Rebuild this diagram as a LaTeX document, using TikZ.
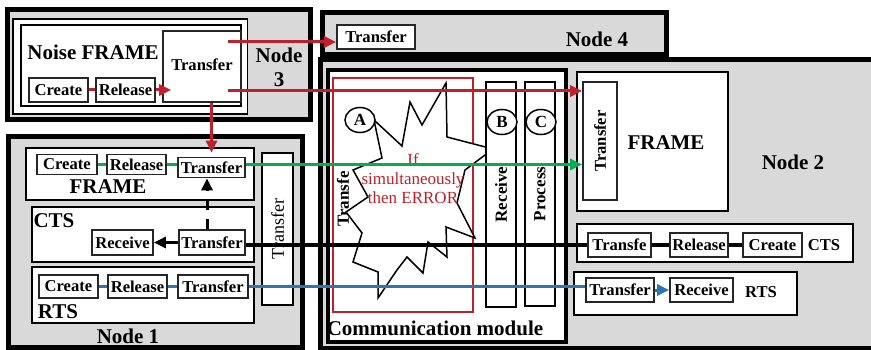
\documentclass[tikz,border=0pt]{standalone}
\usepackage{fontspec}
\setmainfont{Liberation Serif}
\usetikzlibrary{arrows.meta,shapes.geometric}

\definecolor{nodegray}{RGB}{217,217,217}
\definecolor{errred}{RGB}{192,32,44}
\definecolor{framegreen}{RGB}{0,176,80}
\definecolor{rtsblue}{RGB}{46,117,182}

\tikzset{
  nodearea/.style={draw, line width=5pt, fill=nodegray, inner sep=0pt},
  framebox/.style={draw, line width=1.5pt, fill=white, inner sep=0pt},
  task/.style={draw=black!85, line width=1.8pt, fill=white, inner sep=0pt, minimum height=24pt,
    font=\bfseries\fontsize{16.6}{16.6}\selectfont},
  bar/.style={draw, line width=1.8pt, fill=white, inner sep=0pt},
  bigtext/.style={inner sep=0pt, font=\bfseries\fontsize{21}{24}\selectfont},
  smalltext/.style={inner sep=0pt, font=\bfseries\fontsize{16.6}{18}\selectfont},
  mark17/.style={draw, ellipse, line width=1.5pt, fill=white, inner sep=0pt,
    minimum width=30pt, minimum height=25pt, font=\bfseries\fontsize{17}{17}\selectfont},
  flow/.style={line width=3pt},
  arrowtip/.style={-{Triangle[length=12pt,width=11pt]}},
}

\begin{document}
\begin{tikzpicture}[x=1pt,y=-1pt]
  \useasboundingbox (0,0) rectangle (871,350);

  % Node 3
  \node[nodearea, minimum width=302.5pt, minimum height=110pt] (node3) at (158.75,65) {};
  \node[framebox, minimum width=234.5pt, minimum height=95pt] (noiseouter) at (130.25,66.5) {};
  \node[framebox, minimum width=220pt, minimum height=81pt] (noiseinner) at (131,65.5) {};
  \node[task, minimum width=78pt, minimum height=71pt] (nTransfer) at (202,66.5) {\raisebox{3pt}{Transfer}};
  \node[task, minimum width=59pt] (nCreate) at (58.5,90) {Create};
  \node[task, minimum width=59pt] (nRelease) at (125.5,90) {Release};
  \node[bigtext] (noiselbl) at (93,52) {Noise FRAME};
  \node[bigtext, align=center] (node3lbl) at (279,67) {Node\\3};

  % Node 4
  \node[nodearea, minimum width=343.5pt, minimum height=42pt] (node4) at (494.25,33.5) {};
  \node[task, minimum width=78pt] (fTransfer) at (376,37) {Transfer};
  \node[bigtext] (node4lbl) at (597,39) {Node 4};

  % Node 2
  \node[nodearea, minimum width=560pt, minimum height=288pt] (node2) at (600,204) {};
  \node[draw, line width=4pt, fill=white, inner sep=0pt, minimum width=238pt, minimum height=272pt] (comm) at (447,206) {};
  \node[draw=errred, line width=1.5pt, inner sep=0pt, minimum width=140pt, minimum height=234pt] (errzone) at (403,195) {};
  \node[inner sep=0pt, font=\bfseries\fontsize{17}{17}\selectfont, rotate=90, anchor=west] (commT) at (343,227) {Transfe};
  \draw[line width=1.5pt, fill=white] (374,120) -- (402,146) -- (410,102) -- (422,125) -- (446,83)
    -- (447,137) -- (493,149) -- (465,170) -- (457,203) -- (475,238) -- (446,227) -- (447,257)
    -- (428,242) -- (423,273) -- (407,257) -- (397,270) -- (378,298) -- (378,272) -- (353,262)
    -- (362,233) -- (346,212) -- (368,197) -- (353,170) -- (382,158) -- cycle;
  \node[text=errred, align=center, inner sep=0pt, font=\fontsize{17}{19}\selectfont] (errtxt) at (413,179) {If\\simultaneously\\then ERROR};
  \node[mark17] (markA) at (360,120) {A};
  \node[bar, minimum width=30pt, minimum height=225pt, font=\bfseries\fontsize{17}{17}\selectfont] (barB) at (501,194.5) {\rotatebox{90}{Receive}};
  \node[bar, minimum width=30pt, minimum height=224pt, font=\bfseries\fontsize{17}{17}\selectfont] (barC) at (540,194) {\rotatebox{90}{Process}};
  \node[mark17] (markB) at (502,122) {B};
  \node[mark17] (markC) at (541,122) {C};
  \node[bigtext] (commlbl) at (435,328) {Communication module};

  \node[framebox, line width=1.8pt, minimum width=151pt, minimum height=139pt] (frame2) at (652.5,141.5) {};
  \node[task, minimum width=34pt, minimum height=118pt] (t2) at (600,141) {\rotatebox{90}{Transfer}};
  \node[bigtext] (frame2lbl) at (666,143) {FRAME};
  \node[bigtext] (node2lbl) at (793,162) {Node 2};

  \node[framebox, minimum width=276pt, minimum height=38pt] (cts2) at (715,243) {};
  \node[task, minimum width=63pt] (c2Transfe) at (619.5,245) {Transfe};
  \node[task, minimum width=58pt] (c2Release) at (699,245) {Release};
  \node[task, minimum width=59pt] (c2Create) at (772.5,245) {Create};
  \node[smalltext] (cts2lbl) at (824,245) {CTS};

  \node[framebox, minimum width=223pt, minimum height=43pt] (rts2) at (685.5,293.5) {};
  \node[task, minimum width=68pt] (r2Transfer) at (620,290) {Transfer};
  \node[task, minimum width=63pt] (r2Receive) at (701.5,290) {Receive};
  \node[smalltext] (rts2lbl) at (761,292) {RTS};

  % Node 1
  \node[nodearea, minimum width=294pt, minimum height=210.5pt] (node1) at (155,241.75) {};
  \node[framebox, minimum width=228pt, minimum height=52pt] (frame1) at (140,174) {};
  \node[task, minimum width=60pt, minimum height=20pt] (f1Create) at (67,164.5) {Create};
  \node[task, minimum width=59pt, minimum height=20pt] (f1Release) at (136.5,164.5) {Release};
  \node[task, minimum width=67pt, minimum height=20pt] (f1Transfer) at (211.5,167.5) {Transfer};
  \node[bigtext] (frame1lbl) at (108,187) {FRAME};

  \node[framebox, minimum width=222pt, minimum height=55pt] (cts1) at (143,234.5) {};
  \node[bigtext] (cts1lbl) at (54,221) {CTS};
  \node[task, minimum width=61pt, minimum height=25pt] (c1Receive) at (122.5,242.5) {Receive};
  \node[task, minimum width=66pt, minimum height=25pt] (c1Transfer) at (212,242.5) {Transfer};

  \node[framebox, minimum width=222pt, minimum height=56pt] (rts1) at (143,295) {};
  \node[task, minimum width=59pt, minimum height=23pt] (r1Create) at (68.5,286.5) {Create};
  \node[task, minimum width=59pt, minimum height=23pt] (r1Release) at (137.5,286.5) {Release};
  \node[task, minimum width=70pt, minimum height=23pt] (r1Transfer) at (213,286.5) {Transfer};
  \node[bigtext] (rts1lbl) at (58,312) {RTS};

  \node[bar, minimum width=31pt, minimum height=152pt, font=\fontsize{18}{18}\selectfont] (vTransfer) at (277.5,229) {\rotatebox{90}{Transfer}};
  \node[bigtext] (node1lbl) at (128,336) {Node 1};

  % noise frame
  \coordinate (rTop) at (228,42);
  \coordinate (rMid) at (228,91);
  \draw[flow, errred] (nCreate) -- (nRelease);
  \draw[flow, errred, arrowtip, shorten >=-9pt] (nRelease) -- (nTransfer.west |- nRelease);
  \draw[flow, errred, arrowtip] (rTop) -- (rTop -| fTransfer.west);
  \draw[flow, errred, arrowtip] (rMid) -- (rMid -| t2.west);
  \draw[flow, errred, arrowtip, shorten >=4pt] (nTransfer.south -| f1Transfer) -- (f1Transfer.north);

  % FRAME
  \draw[flow, framegreen] (f1Create) -- (f1Release);
  \draw[flow, framegreen] (f1Release) -- (f1Release -| f1Transfer.west);
  \draw[flow, framegreen, arrowtip] (f1Release -| f1Transfer.east) -- (f1Release -| t2.west);

  % CTS
  \draw[flow] (c2Transfe) -- (c2Release);
  \draw[flow] (c2Release) -- (c2Create);
  \draw[flow] (c2Transfe.west) -- (c2Transfe.west -| c1Transfer.east);
  \draw[flow, arrowtip] (c1Transfer) -- (c1Receive);
  \draw[flow, arrowtip, dash pattern=on 10pt off 9pt] ([xshift=-5pt]c1Transfer.north) -- ([xshift=-5pt]c1Transfer.north |- f1Transfer.south);

  % RTS
  \draw[flow, rtsblue] (r1Create) -- (r1Release);
  \draw[flow, rtsblue] (r1Release) -- (r1Transfer);
  \draw[flow, rtsblue] (r1Transfer.east) -- (r1Transfer.east -| r2Transfer.west);
  \draw[flow, rtsblue, arrowtip] (r2Transfer) -- (r2Receive);
\end{tikzpicture}
\end{document}
